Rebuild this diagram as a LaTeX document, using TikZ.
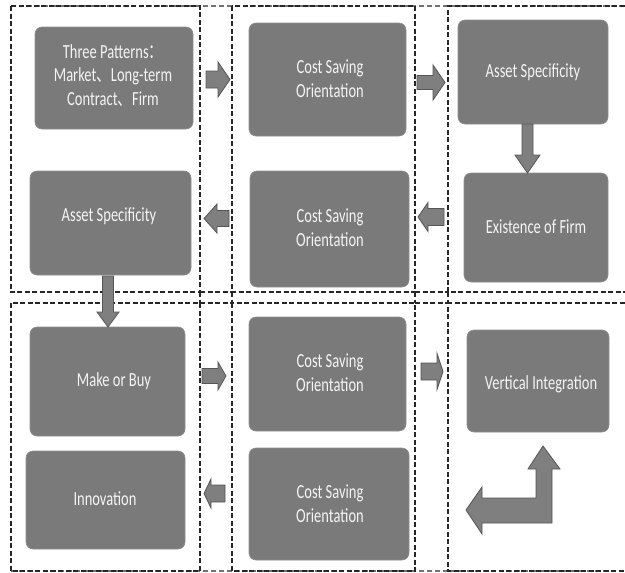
\documentclass[tikz,border=0pt]{standalone}
\usepackage{graphicx}
\usepackage{fontspec}
\setmainfont{Carlito}
\newfontfamily\cjk{Noto Sans CJK SC}
\definecolor{boxgray}{HTML}{7A7A7A}
\definecolor{arrfill}{HTML}{7F7F7F}
\definecolor{arrline}{HTML}{555555}
\definecolor{txt}{HTML}{F4F4F4}
\newcommand{\hba}[6]{\filldraw[barrow] (#1,{#4-#5}) -- (#2,{#4-#5}) -- (#2,{#4-#6}) -- (#3,#4) -- (#2,{#4+#6}) -- (#2,{#4+#5}) -- (#1,{#4+#5}) -- cycle;}
\newcommand{\vba}[6]{\filldraw[barrow] ({#4-#5},#1) -- ({#4-#5},#2) -- ({#4-#6},#2) -- (#4,#3) -- ({#4+#6},#2) -- ({#4+#5},#2) -- ({#4+#5},#1) -- cycle;}
\newcommand{\tallt}[1]{\scalebox{1}[1.38]{\begin{tabular}{@{}c@{}}#1\end{tabular}}}
\begin{document}
\begin{tikzpicture}[x=1pt,y=-1pt,
  box/.style={fill=boxgray, draw=boxgray!85!white, line width=0.6pt, rounded corners=7pt, inner sep=0pt},
  lbl/.style={text=txt, align=center, font=\fontsize{14.5}{17}\selectfont, inner sep=0pt, yshift=-2pt},
  barrow/.style={fill=arrfill, draw=arrline, line width=0.8pt, line join=miter},
  frame/.style={draw=black!85, line width=1.5pt, dash pattern=on 5pt off 2.5pt},
  gframe/.style={draw=black!55, line width=1.2pt, dash pattern=on 5pt off 3pt}]
\useasboundingbox (0,0) rectangle (625,573);
\fill[white] (0,0) rectangle (625,573);
% background grey dashed lines
\draw[gframe] (11,6) -- (625,6);
\draw[gframe] (11,571) -- (625,571);
% frames
\draw[frame] (11,6) rectangle (200,292);
\draw[frame] (11,303) rectangle (200,571);
\draw[frame] (232,6) rectangle (415,292);
\draw[frame] (232,303) rectangle (415,571);
\draw[frame] (632,6) -- (448,6) -- (448,292) -- (632,292);
\draw[frame] (632,303) -- (448,303) -- (448,571) -- (632,571);
\draw[frame] (200,292) -- (232,292) (200,303) -- (232,303);
\draw[frame] (415,292) -- (448,292) (415,303) -- (448,303);
\draw[frame] (200,292) -- (200,303) (232,292) -- (232,303) (415,292) -- (415,303) (448,292) -- (448,303);
% boxes
\node[box, minimum width=158, minimum height=102] (tp) at (114,78) {};
\node[box, minimum width=161, minimum height=104] (asL) at (110.5,223) {};
\node[box, minimum width=157, minimum height=113] (c1) at (327.5,79.5) {};
\node[box, minimum width=159, minimum height=116] (c2) at (329.5,229) {};
\node[box, minimum width=150, minimum height=104] (asR) at (533,72) {};
\node[box, minimum width=144, minimum height=109] (ef) at (536,227.5) {};
\node[box, minimum width=155, minimum height=109] (mb) at (107.5,381.5) {};
\node[box, minimum width=159, minimum height=98] (inn) at (105.5,500) {};
\node[box, minimum width=157, minimum height=114] (c3) at (327.5,374) {};
\node[box, minimum width=160, minimum height=112] (c4) at (329,504) {};
\node[box, minimum width=142, minimum height=102] (vi) at (538,381) {};
% labels
\node[lbl] (tpT) at (113,75) {\tallt{Three Patterns{\cjk ：}\\Market{\cjk 、}Long-term\\Contract{\cjk 、}Firm}};
\node[lbl] (asLT) at (109,215) {\tallt{Asset Specificity}};
\node[lbl] (c1T) at (330,79) {\tallt{Cost Saving\\Orientation}};
\node[lbl] (c2T) at (330,228) {\tallt{Cost Saving\\Orientation}};
\node[lbl] (asRT) at (533,71) {\tallt{Asset Specificity}};
\node[lbl] (efT) at (536,227) {\tallt{Existence of Firm}};
\node[lbl] (mbT) at (114,380) {\tallt{Make or Buy}};
\node[lbl] (innT) at (105,499) {\tallt{Innovation}};
\node[lbl] (c3T) at (330,373) {\tallt{Cost Saving\\Orientation}};
\node[lbl] (c4T) at (330,504) {\tallt{Cost Saving\\Orientation}};
\node[lbl] (viT) at (541,383) {\tallt{Vertical Integration}};
% block arrows
\hba{206}{218}{230}{79.5}{8.5}{17.5}
\hba{417}{433}{445}{82.5}{7}{17.5}
\hba{229}{217}{204}{218.5}{8}{14.5}
\hba{444}{428}{418}{217}{8.5}{14.5}
\hba{202}{218}{226}{376}{7.5}{14}
\hba{421}{437}{443}{371.5}{8.5}{18}
\hba{225}{211}{204}{493.5}{8.5}{14.5}
\vba{124}{155}{173}{527.5}{5.5}{12.5}
\vba{276}{312}{327}{108}{5.5}{11}
\filldraw[barrow] (543,446) -- (560,469) -- (552,469) -- (552,523) -- (482,523) -- (482,534) -- (466,510) -- (482,487) -- (482,498) -- (536,498) -- (536,469) -- (528,469) -- cycle;
\end{tikzpicture}
\end{document}
